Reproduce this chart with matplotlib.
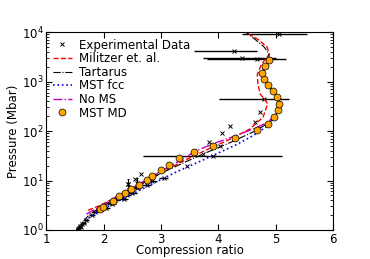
import matplotlib
matplotlib.use('Agg')
import matplotlib.pyplot as plt
from matplotlib.lines import Line2D

# Militzer et. al.
mil_x = [1.73, 1.9, 2.1, 2.4, 2.7, 3.0, 3.4, 3.8, 4.2, 4.55, 4.78, 4.86, 4.80, 4.73, 4.69, 4.68, 4.75, 4.89, 4.85, 4.70, 4.48]
mil_p = [2.5, 3.0, 3.9, 5.9, 9.0, 14.5, 25, 42, 68, 110, 190, 355, 450, 560, 900, 1400, 2200, 3600, 5000, 7000, 10000]

# Tartarus
tar_x = [1.52, 1.6, 1.76, 2.0, 2.3, 2.6, 3.0, 3.4, 3.8, 4.2, 4.6, 4.9, 5.04, 5.06, 5.0, 4.88, 4.78, 4.76, 4.82, 4.89, 4.88, 4.80, 4.65, 4.48]
tar_p = [1.0, 1.3, 2.1, 3.1, 4.9, 7.8, 14, 23, 37, 58, 95, 150, 250, 360, 520, 800, 1150, 1500, 2100, 2800, 3700, 5000, 7000, 10000]

# MST fcc
fcc_x = [1.74, 1.9, 2.1, 2.4, 2.7, 3.0, 3.3, 3.7, 4.0, 4.3, 4.6, 4.85, 4.98, 5.05, 5.07, 5.04, 4.97, 4.87, 4.80, 4.77, 4.82, 4.90]
fcc_p = [1.75, 2.3, 3.1, 4.7, 7.0, 10.5, 15.5, 25, 36, 52, 80, 125, 190, 270, 360, 490, 650, 880, 1150, 1500, 2050, 2750]

# No MS
noms_x = [1.70, 1.9, 2.1, 2.4, 2.7, 3.0, 3.3, 3.6, 3.9, 4.3, 4.65, 4.86, 4.98, 5.04, 5.06, 5.03, 4.96, 4.86, 4.79, 4.76, 4.81, 4.89]
noms_p = [2.1, 2.8, 3.9, 6.2, 9.6, 15.5, 24, 39, 55, 80, 115, 150, 205, 280, 360, 490, 650, 880, 1150, 1500, 2050, 2700]

# MST MD
md_x = [1.94, 1.99, 2.16, 2.27, 2.37, 2.48, 2.62, 2.76, 2.85, 3.00, 3.14, 3.32, 3.58, 3.90, 4.29, 4.67,
        4.86, 4.97, 5.04, 5.06, 5.03, 4.96, 4.86, 4.79, 4.76, 4.81, 4.89]
md_p = [2.6, 2.9, 3.9, 4.9, 5.5, 6.7, 8.3, 10.2, 12.6, 16.2, 21, 28, 37, 51, 71, 105,
        138, 195, 270, 355, 490, 645, 870, 1150, 1510, 2040, 2700]

# experimental data with horizontal error bars
exp_x = [5.05, 4.28, 4.41, 4.68, 4.80, 3.90,
         4.73, 4.64, 4.21, 4.06, 3.83, 4.03, 3.74, 3.45, 2.66, 2.55, 2.43,
         1.55, 1.57, 1.58, 1.60, 1.62, 1.65, 1.70, 1.80, 1.85, 1.90, 1.95, 2.00, 2.05,
         2.10, 2.15, 2.20, 2.30, 2.35, 2.40, 2.45, 2.50, 2.58, 2.75, 2.85, 3.05]
exp_p = [9300, 4200, 3000, 2900, 450, 32,
         240, 150, 129, 91, 59, 50, 35, 20, 13.8, 10.5, 8.7,
         1.05, 1.1, 1.2, 1.15, 1.3, 1.4, 1.6, 2.0, 2.3, 2.5, 2.7, 2.9, 2.8,
         3.5, 3.3, 4.0, 4.5, 4.2, 5.0, 6.0, 5.5, 7.0, 8.0, 10.0, 11.5]
exp_xlo = [0.63, 0.71, 0.67, 0.88, 0.79, 1.21,
           0, 0, 0, 0, 0, 0, 0, 0, 0, 0, 0,
           0.03, 0.03, 0.03, 0.03, 0.04, 0.04, 0.04, 0.05, 0.05, 0.05, 0.05, 0.06, 0.06,
           0.06, 0.06, 0.07, 0.07, 0.07, 0.07, 0.08, 0.08, 0.08, 0.08, 0.08, 0.08]
exp_xhi = [0.49, 0.40, 0.59, 0.50, 0.44, 1.21,
           0, 0, 0, 0, 0, 0, 0, 0, 0, 0, 0,
           0.03, 0.03, 0.03, 0.03, 0.04, 0.04, 0.04, 0.05, 0.05, 0.05, 0.05, 0.06, 0.06,
           0.06, 0.06, 0.07, 0.07, 0.07, 0.07, 0.08, 0.08, 0.08, 0.08, 0.08, 0.08]
# a few points with vertical error bars
vbar_x = [2.43, 2.58]
vbar_p = [8.7, 9.0]
vbar_lo = [1.5, 1.6]
vbar_hi = [1.8, 2.0]

plt.rcParams['font.family'] = 'DejaVu Sans'
plt.rcParams['font.size'] = 8

fig = plt.figure(figsize=(3.7, 2.59), dpi=100)
ax = fig.add_axes([0.125, 0.112, 0.775, 0.764])

ax.errorbar(exp_x, exp_p, xerr=[exp_xlo, exp_xhi], fmt='x', color='black', ms=3, mew=0.7,
            elinewidth=1.0, capsize=0, zorder=2)
ax.errorbar(vbar_x, vbar_p, yerr=[vbar_lo, vbar_hi], fmt='x', color='black', ms=3, mew=0.7,
            elinewidth=0.8, capsize=1, zorder=2)
l_mil, = ax.plot(mil_x, mil_p, '--', color='red', lw=1, label='Militzer et. al.', zorder=3)
l_tar, = ax.plot(tar_x, tar_p, '-.', color='black', lw=0.8, label='Tartarus', zorder=3)
l_fcc, = ax.plot(fcc_x, fcc_p, ':', color='blue', lw=1.2, label='MST fcc', zorder=3)
l_noms, = ax.plot(noms_x, noms_p, '-.', color='m', lw=1, label='No MS', zorder=3)
l_md, = ax.plot(md_x, md_p, 'o', color='orange', mec='black', mew=0.5, ms=5, label='MST MD', zorder=4)

ax.set_yscale('log')
ax.set_xlim(1, 6)
ax.set_ylim(1, 1e4)
ax.set_xlabel('Compression ratio', fontsize=8.5, labelpad=-1)
ax.set_ylabel('Pressure (Mbar)', fontsize=8.5, labelpad=1)
ax.tick_params(which='both', direction='in', top=True, right=True, labelsize=8.5, pad=2)
ax.tick_params(which='major', length=4)
ax.tick_params(which='minor', length=2)

exp_handle = Line2D([], [], ls='none', marker='x', color='black', ms=3, mew=0.7)
ax.legend([exp_handle, l_mil, l_tar, l_fcc, l_noms, l_md],
          ['Experimental Data', 'Militzer et. al.', 'Tartarus', 'MST fcc', 'No MS', 'MST MD'],
          loc='upper left', frameon=False, fontsize=8.5, handlelength=1.6, handletextpad=0.6,
          labelspacing=0.05, borderaxespad=0.15, numpoints=1)

fig.savefig('out.png', dpi=100)
